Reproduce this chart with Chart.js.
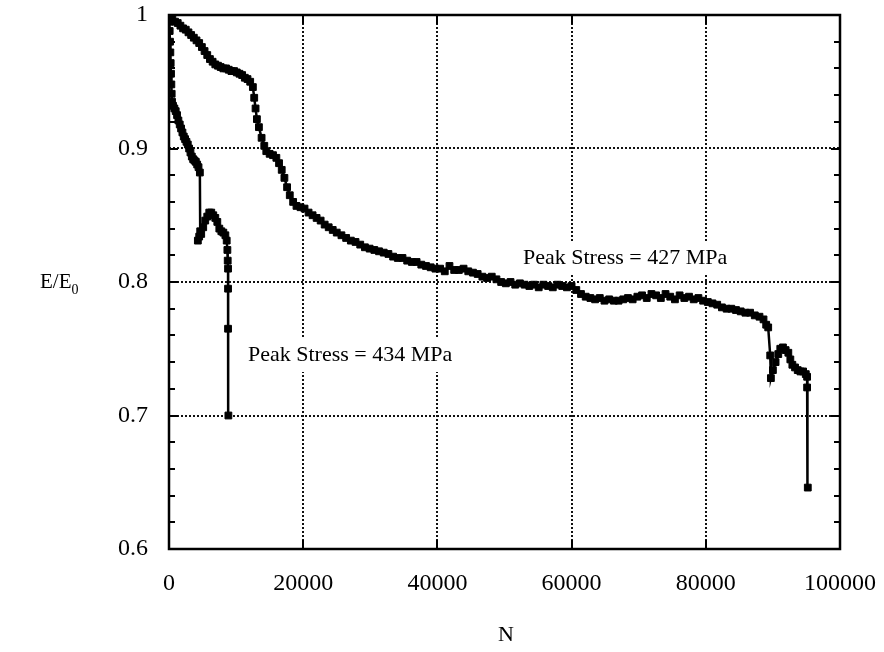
<!DOCTYPE html>
<html>
<head>
<meta charset="utf-8">
<script src="https://cdn.jsdelivr.net/npm/chart.js@4/dist/chart.umd.min.js"></script>
<style>
  html, body { margin: 0; padding: 0; background: #fff; }
  #wrap { width: 884px; height: 652px; }
</style>
</head>
<body>
<div id="wrap"><canvas id="c" width="884" height="652"></canvas></div>
<script>
// ---- data ----
const cycles427 = [0,200,500,900,1300,1700,2100,2500,2900,3300,3700,4100,4500,4900,5300,5700,6100,6500,6900,7300,7700,8100,8500,8900,9300,9700,10100,10500,10900,11300,11700,12100,12500,12700,12900,13100,13400,13800,14200,14500,15000,15500,16000,16400,16800,17200,17600,18000,18500,19000,19600,20200,20800,21400,22000,22600,23200,23800,24400,25000,25700,26400,27100,27800,28500,29200,29900,30600,31300,32000,32700,33400,34100,34800,35500,36200,36900,37600,38300,39000,39700,40400,41100,41800,42500,43200,43900,44600,45300,46000,46700,47400,48100,48800,49500,50200,50900,51600,52300,53000,53700,54400,55100,55800,56500,57200,57900,58600,59300,60000,60700,61400,62100,62800,63500,64200,64900,65600,66300,67000,67700,68400,69100,69800,70500,71200,71900,72600,73300,74000,74700,75400,76100,76800,77500,78200,78900,79600,80300,81000,81700,82400,83100,83800,84500,85200,85900,86600,87300,88000,88600,89000,89300,89600,89700,90000,90400,90800,91100,91500,91900,92300,92600,92900,93300,93700,94100,94500,94900,95100,95100,95200];
const modulus427 = [1.000,0.999,0.997,0.995,0.994,0.992,0.990,0.989,0.987,0.985,0.983,0.981,0.979,0.976,0.973,0.970,0.967,0.965,0.963,0.962,0.961,0.960,0.960,0.959,0.958,0.958,0.957,0.956,0.955,0.953,0.952,0.950,0.946,0.938,0.930,0.922,0.916,0.908,0.902,0.898,0.896,0.895,0.893,0.889,0.884,0.878,0.871,0.865,0.860,0.857,0.856,0.855,0.852,0.850,0.848,0.846,0.843,0.841,0.839,0.837,0.835,0.833,0.831,0.830,0.828,0.826,0.825,0.824,0.823,0.822,0.821,0.819,0.818,0.818,0.816,0.815,0.815,0.813,0.812,0.811,0.810,0.810,0.808,0.812,0.809,0.809,0.810,0.808,0.807,0.806,0.804,0.803,0.804,0.802,0.800,0.799,0.800,0.798,0.799,0.798,0.797,0.798,0.796,0.798,0.797,0.796,0.798,0.797,0.796,0.797,0.794,0.791,0.789,0.788,0.787,0.788,0.786,0.787,0.786,0.786,0.787,0.788,0.787,0.789,0.790,0.788,0.791,0.790,0.788,0.791,0.789,0.787,0.790,0.788,0.789,0.787,0.788,0.786,0.785,0.784,0.783,0.781,0.780,0.780,0.779,0.778,0.777,0.777,0.775,0.774,0.772,0.768,0.766,0.745,0.728,0.734,0.740,0.746,0.750,0.751,0.749,0.747,0.742,0.738,0.736,0.734,0.733,0.733,0.731,0.729,0.721,0.646];

const cycles434 = [0,50,100,150,200,250,300,350,400,450,600,800,1000,1200,1400,1600,1800,2000,2200,2400,2600,2800,3000,3200,3400,3600,3800,4000,4200,4400,4600,4650,4300,4500,4800,5100,5400,5700,6000,6300,6600,6900,7200,7500,7800,8100,8400,8600,8700,8750,8800,8800,8800,8850];
const modulus434 = [1.000,0.995,0.988,0.980,0.972,0.964,0.956,0.948,0.941,0.935,0.932,0.930,0.928,0.925,0.921,0.918,0.915,0.912,0.909,0.907,0.905,0.903,0.900,0.897,0.894,0.892,0.891,0.890,0.888,0.886,0.882,0.838,0.831,0.834,0.836,0.841,0.846,0.849,0.852,0.852,0.850,0.848,0.845,0.840,0.838,0.837,0.835,0.831,0.824,0.816,0.810,0.795,0.765,0.700];

const xTicks = [0,20000,40000,60000,80000,100000];
const yTicks = [0.6,0.7,0.8,0.9,1.0];
const xLabel = 'N';
const yLabelMain = 'E/E';
const yLabelSub = '0';
const note427 = 'Peak Stress = 427 MPa';
const note434 = 'Peak Stress = 434 MPa';

const SERIF = '"Liberation Serif", "DejaVu Serif", serif';

function pts(xs, ys) { return xs.map((x, i) => ({ x: x, y: ys[i] })); }

const framePlugin = {
  id: 'frame',
  beforeDatasetsDraw(chart) {
    const { ctx, chartArea: a, scales } = chart;
    const xs = scales.x, ys = scales.y;
    ctx.save();
    ctx.strokeStyle = '#000';
    ctx.lineWidth = 2.5;
    ctx.strokeRect(a.left, a.top, a.right - a.left, a.bottom - a.top);
    ctx.lineWidth = 2;
    for (let i = 0; i <= 20; i++) {
      const v = 0.6 + i * 0.02;
      const y = Math.round(ys.getPixelForValue(v));
      const len = (i % 5 === 0) ? 9 : 6;
      ctx.beginPath();
      ctx.moveTo(a.left, y); ctx.lineTo(a.left + len, y);
      ctx.moveTo(a.right, y); ctx.lineTo(a.right - len, y);
      ctx.stroke();
    }
    xTicks.forEach(v => {
      const x = Math.round(xs.getPixelForValue(v));
      ctx.beginPath();
      ctx.moveTo(x, a.bottom); ctx.lineTo(x, a.bottom - 9);
      ctx.moveTo(x, a.top); ctx.lineTo(x, a.top + 9);
      ctx.stroke();
    });
    ctx.restore();
  },
  afterDatasetsDraw(chart) {
    const { ctx } = chart;
    ctx.save();
    ctx.fillStyle = '#000';
    ctx.textBaseline = 'middle';
    ctx.font = '22px ' + SERIF;
    const notes = [[note427, 523, 258], [note434, 248, 355]];
    notes.forEach(([t, x, y]) => {
      const w = ctx.measureText(t).width;
      ctx.fillStyle = '#fff';
      ctx.fillRect(x - 4, y - 17, w + 8, 34);
      ctx.fillStyle = '#000';
      ctx.textAlign = 'left';
      ctx.fillText(t, x, y);
    });
    ctx.font = '22px ' + SERIF;
    ctx.textAlign = 'center';
    ctx.fillText(xLabel, 506, 635);
    ctx.textAlign = 'left';
    ctx.font = '21px ' + SERIF;
    ctx.fillText(yLabelMain, 40, 282);
    const w = ctx.measureText(yLabelMain).width;
    ctx.font = '14px ' + SERIF;
    ctx.fillText(yLabelSub, 40 + w, 290);
    ctx.restore();
  }
};

const common = {
  showLine: true,
  borderColor: '#000',
  backgroundColor: '#000',
  borderWidth: 2.5,
  pointStyle: 'rect',
  pointRadius: 4.8,
  pointBorderWidth: 1,
  tension: 0
};

new Chart(document.getElementById('c'), {
  type: 'scatter',
  data: {
    datasets: [
      Object.assign({ label: note427, data: pts(cycles427, modulus427) }, common),
      Object.assign({ label: note434, data: pts(cycles434, modulus434) }, common)
    ]
  },
  options: {
    responsive: false,
    animation: false,
    layout: { padding: { left: 0, right: 44, top: 15, bottom: 0 } },
    plugins: { legend: { display: false }, tooltip: { enabled: false } },
    scales: {
      x: {
        type: 'linear',
        min: 0, max: 100000,
        afterBuildTicks: s => { s.ticks = xTicks.map(v => ({ value: v })); },
        afterFit: s => { s.height = 103; s.paddingLeft = 0; s.paddingRight = 0; },
        ticks: {
          color: '#000',
          font: { family: SERIF, size: 24 },
          padding: 20,
          maxRotation: 0,
          callback: v => String(v)
        },
        grid: { color: '#111', lineWidth: 2, drawTicks: false },
        border: { display: false, dash: [2, 2] }
      },
      y: {
        type: 'linear',
        min: 0.6, max: 1.0,
        afterBuildTicks: s => { s.ticks = yTicks.map(v => ({ value: v })); },
        afterFit: s => { s.width = 169; s.paddingTop = 0; s.paddingBottom = 0; },
        ticks: {
          color: '#000',
          font: { family: SERIF, size: 24 },
          padding: 21,
          callback: v => String(+v.toFixed(1))
        },
        grid: { color: '#111', lineWidth: 2, drawTicks: false },
        border: { display: false, dash: [2, 2] }
      }
    }
  },
  plugins: [framePlugin]
});
</script>
</body>
</html>
